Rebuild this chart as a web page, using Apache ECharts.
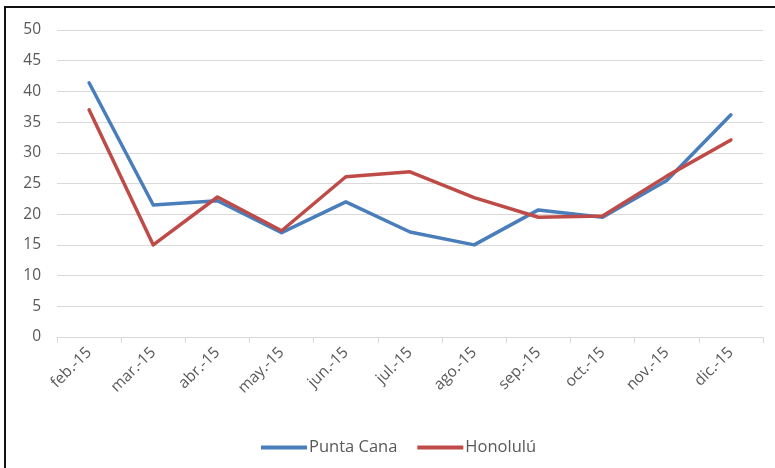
<!DOCTYPE html>
<html>
<head>
<meta charset="utf-8">
<script src="https://cdn.jsdelivr.net/npm/echarts@6/dist/echarts.min.js"></script>
<style>
  html, body { margin: 0; padding: 0; background: #fff; }
  #chart { width: 775px; height: 468px; }
</style>
</head>
<body>
<div id="chart"></div>
<script>
// Monthly values, Feb–Dec 2015
var months = ['feb.-15', 'mar.-15', 'abr.-15', 'may.-15', 'jun.-15', 'jul.-15',
              'ago.-15', 'sep.-15', 'oct.-15', 'nov.-15', 'dic.-15'];
var puntaCana = [41.4, 21.5, 22.2, 17.0, 22.0, 17.1, 15.0, 20.7, 19.5, 25.5, 36.2];
var honolulu  = [37.0, 15.0, 22.8, 17.3, 26.1, 26.9, 22.7, 19.5, 19.7, 26.2, 32.1];
var yTicks = { min: 0, max: 50, interval: 5 };

var fontFamily = 'Open Sans, Noto Sans, sans-serif';
var textColor = '#595959';

var chart = echarts.init(document.getElementById('chart'), null, { renderer: 'canvas' });
chart.setOption({
  animation: false,
  backgroundColor: '#fff',
  graphic: [
    // frame lines on the top and left edges
    { type: 'rect', left: 4, top: 6, shape: { width: 771, height: 2 }, style: { fill: '#111' }, z: 10 },
    { type: 'rect', left: 4, top: 6, shape: { width: 2, height: 462 }, style: { fill: '#111' }, z: 10 }
  ],
  grid: { left: 57, right: 12, top: 30, bottom: 131, containLabel: false },
  legend: {
    top: 434,
    left: 256,
    itemWidth: 46,
    itemHeight: 4,
    itemGap: 20,
    icon: 'rect',
    textStyle: { color: textColor, fontSize: 16.5, fontFamily: fontFamily, padding: [0, 0, 0, -3] },
    data: ['Punta Cana', 'Honolulú']
  },
  xAxis: {
    type: 'category',
    data: months,
    boundaryGap: true,
    axisLine: { show: true, lineStyle: { color: '#d9d9d9', width: 1 } },
    axisTick: { show: true, length: 6, lineStyle: { color: '#d9d9d9' } },
    axisLabel: { rotate: 45, color: textColor, fontSize: 15.5, fontFamily: fontFamily, margin: 13 },
    splitLine: { show: false }
  },
  yAxis: {
    type: 'value',
    min: yTicks.min,
    max: yTicks.max,
    interval: yTicks.interval,
    axisLine: { show: false },
    axisTick: { show: false },
    axisLabel: { color: textColor, fontSize: 15.5, fontFamily: fontFamily, margin: 16 },
    splitLine: { lineStyle: { color: '#d9d9d9', width: 1 } }
  },
  series: [
    {
      name: 'Punta Cana', type: 'line', data: puntaCana,
      symbol: 'none', smooth: false,
      lineStyle: { color: '#4a7ebb', width: 3.5, cap: 'round', join: 'round' },
      itemStyle: { color: '#4a7ebb' }
    },
    {
      name: 'Honolulú', type: 'line', data: honolulu,
      symbol: 'none', smooth: false,
      lineStyle: { color: '#be4b48', width: 3.5, cap: 'round', join: 'round' },
      itemStyle: { color: '#be4b48' }
    }
  ]
});
</script>
</body>
</html>
